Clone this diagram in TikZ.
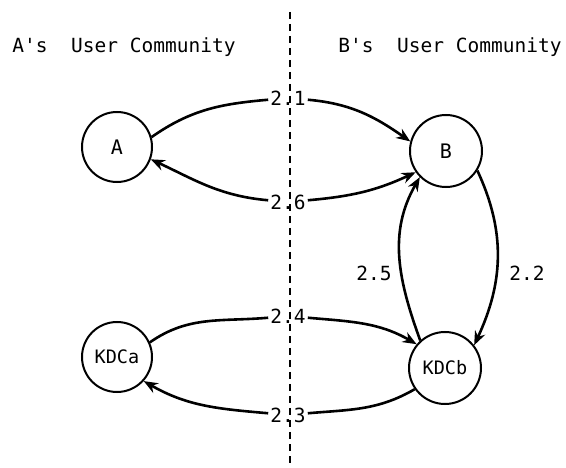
\documentclass[tikz,border=0pt]{standalone}
\usepackage{fontspec}
\setmonofont{DejaVu Sans Mono}
\usetikzlibrary{arrows.meta}

\begin{document}
\begin{tikzpicture}[x=1pt, y=1pt, auto,
                    party/.style={circle,draw,line width=2pt,minimum size=70pt,inner sep=0pt,
                                  font=\ttfamily\fontsize{18.5}{18}\selectfont},
                    msg/.style={font=\ttfamily\fontsize{19.5}{20}\selectfont,inner sep=2pt},
                    flow/.style={-{Stealth[length=14pt,width=11pt]}}]

  \useasboundingbox (0,0) rectangle (566,-468);

  % boundary between the two communities
  \coordinate (top) at (290,-12);
  \coordinate (bottom) at (290,-468);
  \draw[line width=2pt, dash pattern=on 7pt off 5pt] (top) -- (bottom);

  \node[msg] (ca) at (124,-47) {A's~~User Community};
  \node[msg] (cb) at (450,-47) {B's~~User Community};

  \node[party, font=\ttfamily\fontsize{20}{20}\selectfont] (A) at (117,-147) {A};
  \node[party, minimum size=72pt, font=\ttfamily\fontsize{20}{20}\selectfont] (B) at (446,-151) {B};
  \node[party] (KDCa) at (117,-357) {KDCa};
  \node[party, minimum size=72pt] (KDCb) at (445,-368) {KDCb};

  \node[msg] (l21) at (288,-98) {2.1};
  \node[msg] (l26) at (288,-202) {2.6};
  \node[msg] (l25) at (374,-273) {2.5};
  \node[msg] (l22) at (527,-273) {2.2};
  \node[msg] (l24) at (288,-316) {2.4};
  \node[msg] (l23) at (288,-415) {2.3};

  \path[line width=2.6pt]

    (A.16) edge[out=35, in=185] (l21)
    (l21) edge[flow, out=-5, in=145] (B.165)

    (l26) edge[flow, out=175, in=-25] (A.-20)
    (l26) edge[flow, out=5, in=205] (B.215)

    (KDCb.132) edge[flow, out=110, in=240] (B.225)
    (B.-32) edge[flow, out=-65, in=65] (KDCb.38)

    (KDCa.24) edge[out=35, in=185] (l24)
    (l24) edge[flow, out=-5, in=150] (KDCb.140)

    (KDCb.215) edge[out=210, in=5] (l23)
    (l23) edge[flow, out=175, in=-30] (KDCa.-42)	;

\end{tikzpicture}
\end{document}
